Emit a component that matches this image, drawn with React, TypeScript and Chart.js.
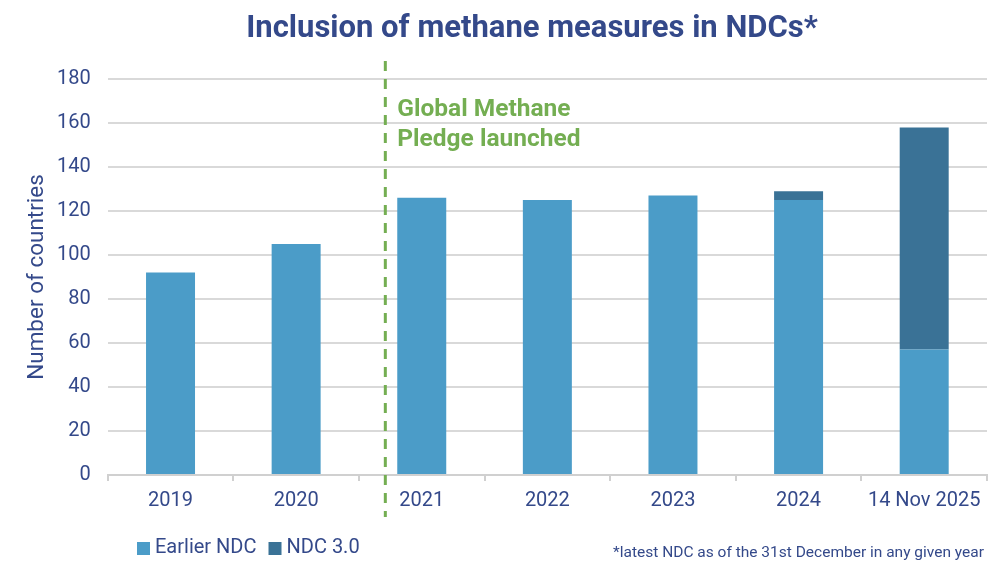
import React, { useEffect, useRef } from "react";
import { Chart, registerables } from "chart.js";

Chart.register(...registerables);

const categories = ["2019", "2020", "2021", "2022", "2023", "2024", "14 Nov 2025"];
const earlierNdc = [92, 105, 126, 125, 127, 125, 57];
const ndc30 = [null, null, null, null, null, 4, 101];
const yTicks = [0, 20, 40, 60, 80, 100, 120, 140, 160, 180];
const pledgePosition = 1.71; // category-index position of the pledge marker
const pledgeLabelValue = 166; // y value at which the pledge label starts
const pledgeLabel = ["Global Methane", "Pledge launched"];
const titleText = "Inclusion of methane measures in NDCs*";
const footnote = "*latest NDC as of the 31st December in any given year";

const C_EARLIER = "#4B9CC8";
const C_NDC3 = "#3A7296";
const C_GREEN = "#74AE52";
const C_TEXT = "#34498A";
const FONT = "Roboto, 'Noto Sans', sans-serif";

const overlayPlugin = {
  id: "overlay",
  afterDatasetsDraw(chart: any) {
    const { ctx, chartArea, scales } = chart;
    const x = scales.x.getPixelForValue(pledgePosition);
    ctx.save();
    ctx.strokeStyle = C_GREEN;
    ctx.lineWidth = 3;
    ctx.setLineDash([10, 8]);
    ctx.beginPath();
    ctx.moveTo(x, chartArea.top - 18);
    ctx.lineTo(x, chartArea.bottom + 42);
    ctx.stroke();
    ctx.setLineDash([]);
    ctx.fillStyle = C_GREEN;
    ctx.font = `bold 24.5px ${FONT}`;
    ctx.textAlign = "left";
    ctx.textBaseline = "middle";
    const y0 = scales.y.getPixelForValue(pledgeLabelValue);
    pledgeLabel.forEach((t, i) => ctx.fillText(t, x + 12, y0 + i * 30));
    ctx.restore();
  },
  afterDraw(chart: any) {
    const { ctx } = chart;
    ctx.save();
    // title
    ctx.fillStyle = C_TEXT;
    ctx.font = `bold 31px ${FONT}`;
    ctx.textAlign = "center";
    ctx.textBaseline = "middle";
    ctx.fillText(titleText, 532, 29);
    // legend
    ctx.font = `20px ${FONT}`;
    const ly = 548;
    let lx = 137;
    const items = [
      { label: "Earlier NDC", color: C_EARLIER },
      { label: "NDC 3.0", color: C_NDC3 },
    ];
    items.forEach((it) => {
      ctx.fillStyle = it.color;
      ctx.fillRect(lx, ly - 6, 13, 13);
      ctx.fillStyle = C_TEXT;
      ctx.textAlign = "left";
      ctx.fillText(it.label, lx + 18, ly);
      lx += 18 + ctx.measureText(it.label).width + 12;
    });
    ctx.font = `15.5px ${FONT}`;
    ctx.textAlign = "right";
    ctx.fillText(footnote, 984, 553);
    ctx.restore();
  },
};

export default function App() {
  const ref = useRef<HTMLCanvasElement>(null);
  useEffect(() => {
    if (!ref.current) return;
    const chart = new Chart(ref.current, {
      type: "bar",
      data: {
        labels: categories,
        datasets: [
          {
            label: "Earlier NDC",
            data: earlierNdc,
            backgroundColor: C_EARLIER,
            categoryPercentage: 1,
            barPercentage: 0.39,
          },
          {
            label: "NDC 3.0",
            data: ndc30 as any,
            backgroundColor: C_NDC3,
            categoryPercentage: 1,
            barPercentage: 0.39,
          },
        ],
      },
      options: {
        animation: false,
        responsive: true,
        maintainAspectRatio: false,
        layout: { padding: { left: 22, right: 13, top: 79, bottom: 52 } },
        plugins: {
          legend: { display: false },
          tooltip: { enabled: false },
          title: { display: false },
        },
        scales: {
          x: {
            stacked: true,
            grid: {
              display: true,
              drawOnChartArea: false,
              drawTicks: true,
              tickLength: 6,
              color: "#D0D0D0",
              lineWidth: 2,
              offset: true,
            },
            border: { display: true, color: "#D0D0D0", width: 2 },
            ticks: {
              color: C_TEXT,
              font: { family: FONT, size: 20 },
              padding: 8,
              maxRotation: 0,
              autoSkip: false,
            },
          },
          y: {
            stacked: true,
            min: 0,
            max: 180,
            afterBuildTicks(axis: any) {
              axis.ticks = yTicks.map((v) => ({ value: v }));
            },
            grid: { color: "#D9D9D9", lineWidth: 2, drawTicks: false },
            border: { display: false },
            ticks: {
              color: C_TEXT,
              font: { family: FONT, size: 20 },
              padding: 17,
            },
            title: {
              display: true,
              text: "Number of countries",
              color: C_TEXT,
              font: { family: FONT, size: 22.5 },
              padding: { top: 2, bottom: -11 },
            },
          },
        },
      },
      plugins: [overlayPlugin],
    });
    return () => chart.destroy();
  }, []);
  return (
    <div style={{ position: "absolute", left: 0, top: 0, width: 1000, height: 573, background: "#fff" }}>
      <canvas ref={ref} />
    </div>
  );
}
